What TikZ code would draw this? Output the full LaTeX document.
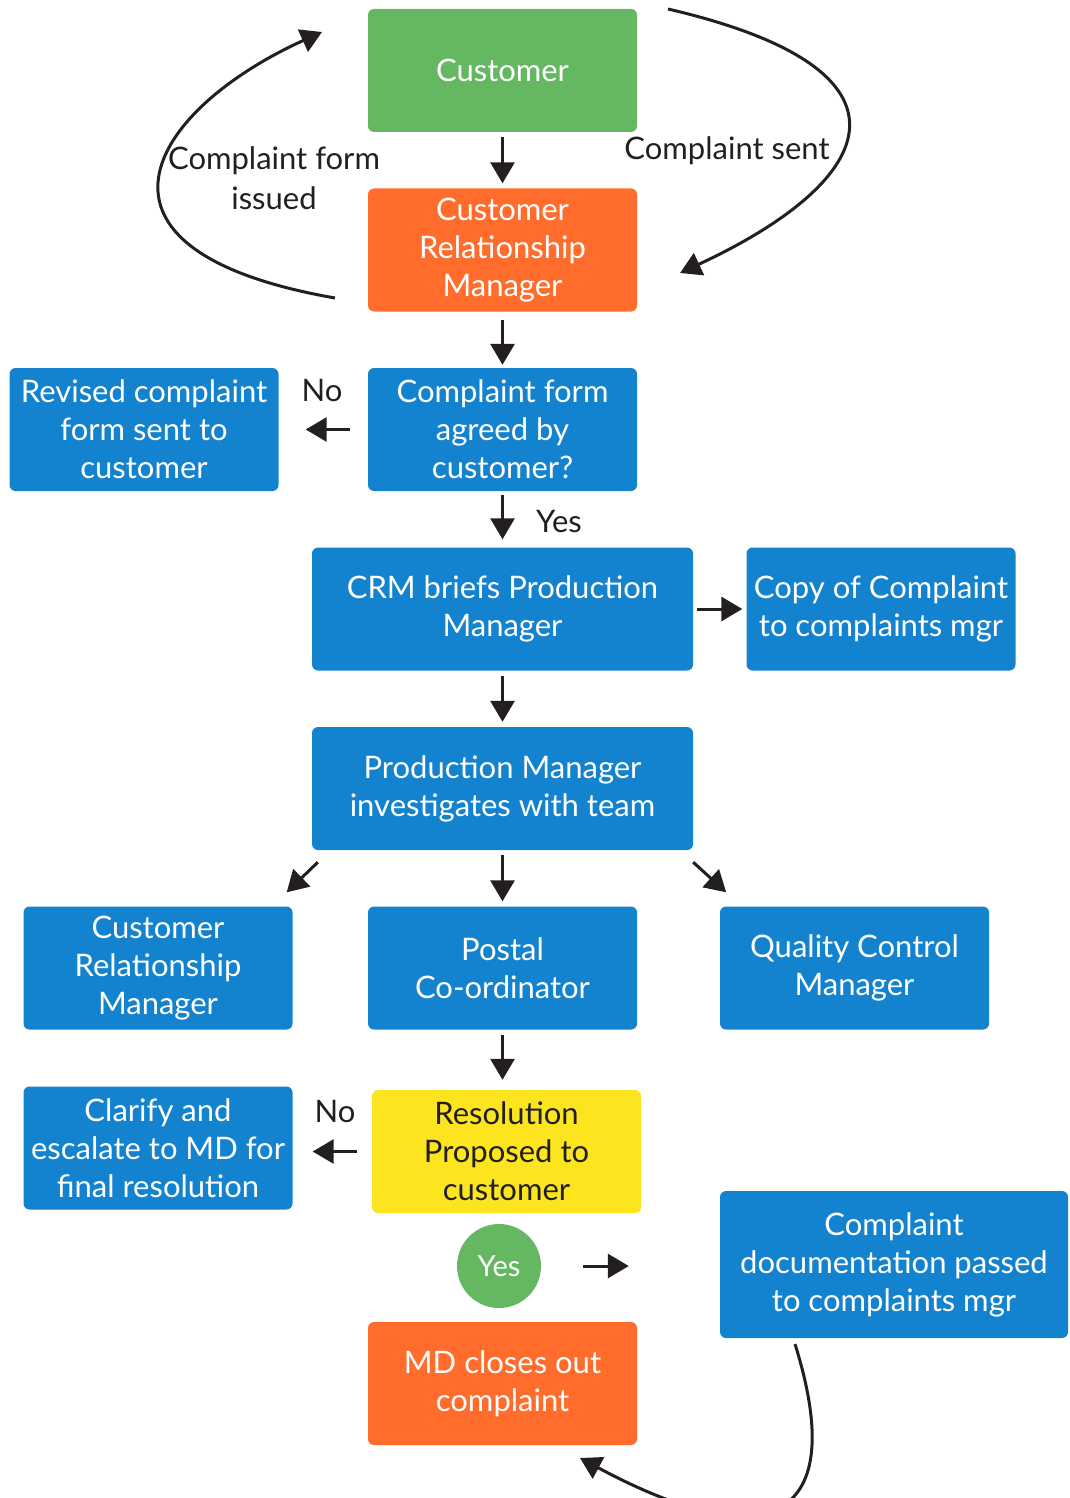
\documentclass[tikz,border=0pt]{standalone}
\usepackage{fontspec}
\setmainfont{Lato}
\usepackage{tikz}
\usetikzlibrary{arrows.meta, positioning}
\tikzset{>={Triangle[width=24pt,length=21pt]}}
\definecolor{cgreen}{RGB}{102,183,98}
\definecolor{corange}{RGB}{255,108,44}
\definecolor{cblue}{RGB}{20,131,207}
\definecolor{cyellow}{RGB}{252,229,30}
\definecolor{ink}{RGB}{35,31,32}

\begin{document}
\begin{tikzpicture}[x=1pt, y=1pt, on grid, node distance = 179.5pt,
		box/.style = {rectangle, rounded corners=6pt, minimum width=269pt, minimum height=123pt,
			inner sep=0pt, align=center, text=white, font=\fontsize{31}{38}\selectfont},
		wide/.style = {box, minimum width=381pt},
		lbl/.style = {text=ink, align=center, font=\fontsize{31}{40}\selectfont},
		arr/.style = {->, line width=3pt, draw=ink, shorten <=5pt, shorten >=5pt}]
		\useasboundingbox (0,0) rectangle (1070,-1498);
		\clip (0,0) rectangle (1070,-1498);
		% main column
		\node (cust) [box, fill=cgreen] at (502.5,-70.5) {Customer};
		\node (crm) [box, fill=corange, below = of cust] {Customer\\Relationship\\Manager};
		\node (agree) [box, fill=cblue, below = of crm] {Complaint form\\agreed by\\customer?};
		\node (revised) [box, fill=cblue, left = 358.5pt of agree] {Revised complaint\\form sent to\\customer};
		\node (brief) [wide, fill=cblue, below = of agree] {CRM briefs Production\\Manager};
		\node (copy) [box, fill=cblue, right = 378.5pt of brief] {Copy of Complaint\\to complaints mgr};
		\node (pm) [wide, fill=cblue, below = of brief] {Production Manager\\investigates with team};
		\node (postal) [box, fill=cblue, below = of pm] {Postal\\Co-ordinator};
		\node (crm2) [box, fill=cblue, left = 344.5pt of postal] {Customer\\Relationship\\Manager};
		\node (qc) [box, fill=cblue, right = 352pt of postal] {Quality Control\\Manager};
		\node (res) [box, fill=cyellow, text=ink, below right = 183.5pt and 4pt of postal] {Resolution\\Proposed to\\customer};
		\node (clarify) [box, fill=cblue] at (158,-1148) {Clarify and\\escalate to MD for\\final resolution};
		\node (yes) [circle, fill=cgreen, text=white, minimum size=84pt, inner sep=0pt,
			font=\fontsize{29}{38}\selectfont] at (499,-1266) {Yes};
		\node (doc) [box, fill=cblue, minimum width=348pt, minimum height=147pt] at (894,-1264.5)
			{Complaint\\documentation passed\\to complaints mgr};
		\node (md) [box, fill=corange] at (502.5,-1383.5) {MD closes out\\complaint};
		% labels
		\node (lform) [lbl] at (274,-178) {Complaint form\\issued};
		\node (lsent) [lbl] at (727,-151) {Complaint sent};
		\node (lno) [lbl] at (322,-390) {No};
		\node (lyes) [lbl] at (559,-522) {Yes};
		\node (lno2) [lbl] at (335,-1111) {No};
		% free ends of the curved arrows
		\coordinate (fa) at (335,-298);
		\coordinate (fb) at (322,-32);
		\coordinate (sa) at (668,-9);
		\coordinate (sb) at (680,-273);
		\coordinate (da) at (795,-1344);
		\coordinate (db) at (580,-1458);
		% straight arrows
		\draw [arr] (cust) -- (crm);
		\draw [arr, shorten <=8pt, shorten >=3pt] (crm) -- (agree);
		\draw [arr, shorten <=18pt, shorten >=27pt] (agree) -- (revised);
		\draw [arr, shorten <=4pt, shorten >=8pt] (agree) -- (brief);
		\draw [arr, shorten <=4pt, shorten >=4pt] (brief) -- (copy);
		\draw [arr] (brief) -- (pm);
		\draw [arr] (pm) -- (postal);
		\draw [->, line width=3pt, draw=ink] ([shift={(6,-12)}]pm.south west) -- ([shift={(-6,14)}]crm2.north east);
		\draw [->, line width=3pt, draw=ink] ([shift={(0,-12)}]pm.south east) -- ([shift={(-263,14)}]qc.north east);
		\draw [arr, shorten >=10pt] (postal) -- (postal |- res.north);
		\draw [arr, shorten <=15pt, shorten >=20pt] (res.west) -- (clarify.east |- res.west);
		\draw [arr, shorten <=42pt, shorten >=91pt] (yes.east) -- (yes.east -| doc.west);
		% curved arrows
		\draw [->, line width=3pt, draw=ink] (fa) .. controls (60,-250) and (150,-110) .. (fb);
		\draw [->, line width=3pt, draw=ink] (sa) .. controls (930,-70) and (880,-180) .. (sb);
		\draw [->, line width=3pt, draw=ink] (da) .. controls (850,-1520) and (770,-1560) .. (db);
\end{tikzpicture}
\end{document}
